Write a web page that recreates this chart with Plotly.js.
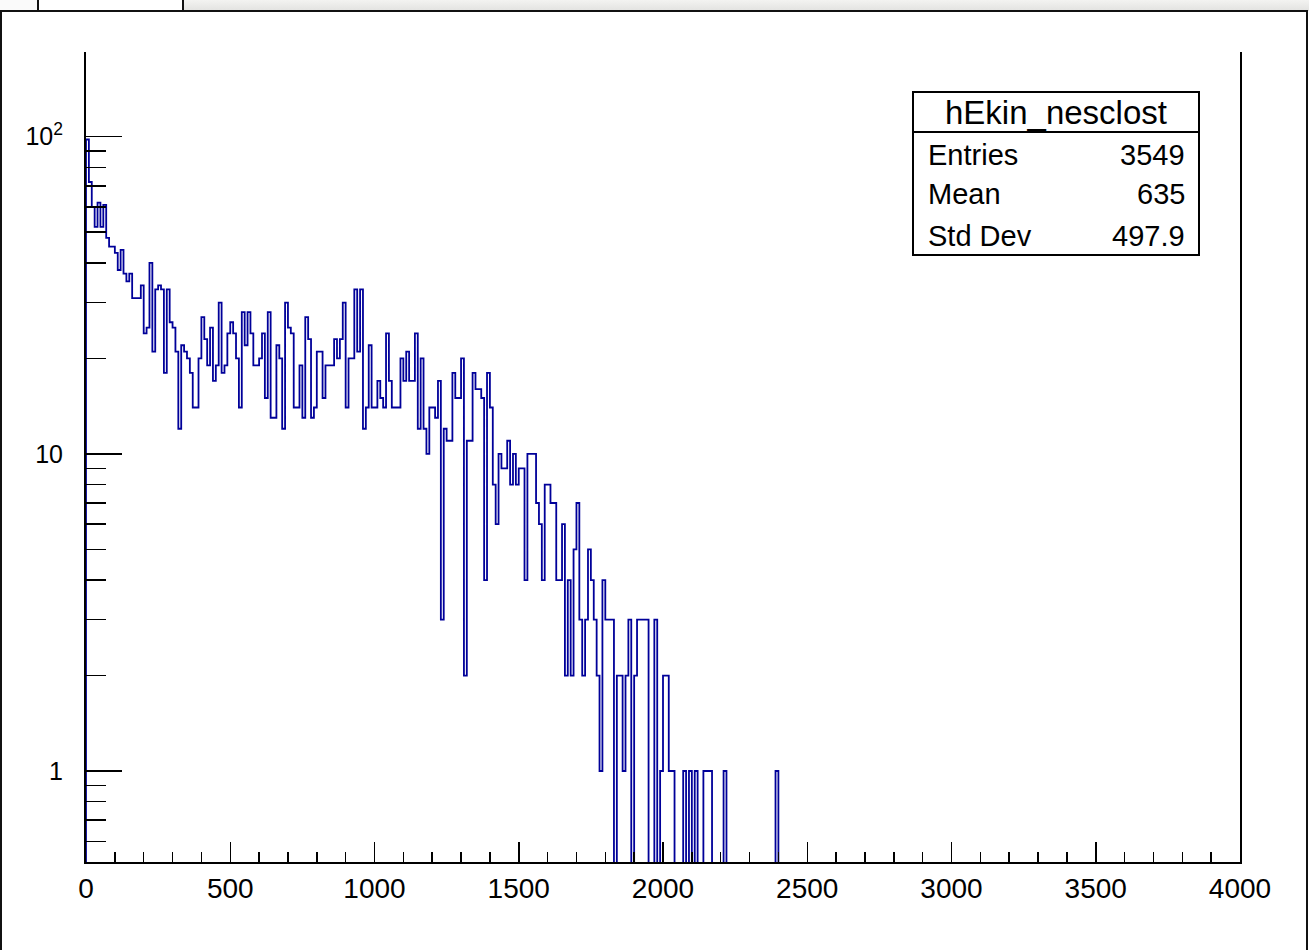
<!DOCTYPE html>
<html><head><meta charset="utf-8">
<script src="https://cdn.plot.ly/plotly-3.0.1.min.js"></script>
<style>
html,body{margin:0;padding:0;background:#fff;}
#wrap{position:relative;width:1309px;height:950px;overflow:hidden;}
#chart{position:absolute;left:0;top:0;width:1309px;height:950px;}
.ov{position:absolute;pointer-events:none;box-sizing:border-box;}
</style></head><body>
<div id="wrap">
<div id="chart"></div>
<div class="ov" style="left:0;top:0;width:1309px;height:11px;background:linear-gradient(#f3f3f1,#e2e2e0);"></div>
<div class="ov" style="left:0;top:0;width:38px;height:11px;background:#fafafa;"></div>
<div class="ov" style="left:37px;top:0;width:147px;height:11px;background:#fff;border-left:2px solid #111;border-right:2px solid #111;"></div>
<div class="ov" style="left:0;top:10px;width:1308px;height:945px;border:2px solid #111;"></div>
</div>
<script>
// Histogram hEkin_nesclost : 400 bins from 0 to 4000 (bin width 10)
const histName = "hEkin_nesclost";
const binWidth = 10;
const xMin = 0, xMax = 4000;
// bin contents for bins 0..240 (all later bins are empty)
const counts = [
 98,72,60,52,62,52,61,48,45,45, 43,38,44,37,35,37,31,31,31,34,
 24,25,40,21,33,34,33,18,33,26, 25,21,12,22,21,20,18,14,14,20,
 27,23,19,25,17,19,30,18,19,24, 26,24,20,14,28,22,28,24,19,19,
 20,24,15,28,13,13,22,20,12,30, 25,24,14,14,19,13,27,23,13,14,
 21,21,15,19,19,19,23,20,23,30, 14,20,20,33,21,33,12,14,22,14,
 14,17,15,14,24,17,14,14,14,20, 17,21,17,17,24,12,20,12,10,14,
 14,13,17,3,12,11,11,18,15,15, 20,2,11,11,18,16,16,15,4,18,
 14,8,6,10,9,9,11,8,10,8, 9,9,4,10,10,10,7,6,4,8,
 8,7,7,4,4,6,2,4,2,5, 7,3,2,3,5,4,3,2,1,4,
 3,3,3,0,2,2,1,2,3,0, 2,3,3,3,3,0,0,3,0,1,
 2,2,1,1,0,0,0,1,0,1, 0,1,0,0,1,1,1,0,0,0,
 0,1,0,0,0,0,0,0,0,0, 0,0,0,0,0,0,0,0,0,1,
 0
];
const statLabels = ["Entries", "Mean", "Std Dev"];
const statValues = ["3549", "635", "497.9"];
const xTickVals = [0,500,1000,1500,2000,2500,3000,3500,4000];
const xTickText = ["0","500","1000","1500","2000","2500","3000","3500","4000"];
const yTickVals = [1,10,100];
const yTickText = ["1","10","10<sup>2</sup>"];

const yMin = 0.5165, yMax = 185;
const floorVal = 0.05; // empty bins are drawn below the axis (clipped), as ROOT does on log scale

const xs = [0], ys = [floorVal];
for (let i = 0; i < counts.length; i++) {
  xs.push(xMin + i * binWidth);
  ys.push(counts[i] > 0 ? counts[i] : floorVal);
}
xs.push(xMin + counts.length * binWidth); ys.push(ys[ys.length - 1]);

const yMinor = [];
for (let d = 0.1; d <= 100; d *= 10) {
  for (let k = 2; k <= 9; k++) { const v = +(k * d).toPrecision(3); if (v > yMin && v < yMax) yMinor.push(v); }
}

const trace = {
  type: 'scatter', mode: 'lines', x: xs, y: ys,
  line: {shape: 'hv', color: '#000099', width: 1.8, simplify: false},
  hoverinfo: 'skip'
};

const fam = '"Liberation Sans", Arial, Helvetica, sans-serif';
const axisFontX = {family: fam, size: 28, color: '#000'};
const axisFontY = {family: fam, size: 25, color: '#000'};
const statFont = {family: fam, size: 29, color: '#000'};

const px2x = p => (p - 86) / 1154;
const px2y = p => (862 - p) / 810;

const shapes = [
  {type: 'rect', xref: 'paper', yref: 'paper', x0: px2x(913), x1: px2x(1199), y0: px2y(255), y1: px2y(92),
   line: {color: '#000', width: 2}, fillcolor: '#fff', layer: 'above'},
  {type: 'line', xref: 'paper', yref: 'paper', x0: px2x(913), x1: px2x(1199), y0: px2y(132), y1: px2y(132),
   line: {color: '#000', width: 2}, layer: 'above'}
];
const rowY = [155, 194, 236];
const annotations = [
  {xref: 'paper', yref: 'paper', x: px2x(1056), y: px2y(112), text: histName, showarrow: false,
   xanchor: 'center', yanchor: 'middle', font: Object.assign({}, statFont, {size: 33})}
];
statLabels.forEach((l, i) => {
  annotations.push({xref: 'paper', yref: 'paper', x: px2x(926), y: px2y(rowY[i]), text: l, showarrow: false,
    xanchor: 'left', yanchor: 'middle', font: statFont});
  annotations.push({xref: 'paper', yref: 'paper', x: px2x(1187), y: px2y(rowY[i]), text: statValues[i], showarrow: false,
    xanchor: 'right', yanchor: 'middle', font: statFont});
});

const layout = {
  width: 1309, height: 950,
  margin: {l: 86, r: 69, t: 52, b: 88, pad: 0},
  paper_bgcolor: '#fff', plot_bgcolor: '#fff',
  showlegend: false,
  xaxis: {
    range: [xMin, xMax], showgrid: false, zeroline: false,
    showline: true, linecolor: '#000', linewidth: 2, mirror: false,
    ticks: 'inside', ticklen: 20, tickwidth: 1.5, tickcolor: '#000',
    tickmode: 'array', tickvals: xTickVals, ticktext: xTickText,
    tickfont: axisFontX, ticklabelstandoff: 0,
    minor: {ticks: 'inside', ticklen: 10, tickwidth: 1.5, tickcolor: '#000', dtick: 100, showgrid: false}
  },
  yaxis: {
    type: 'log', range: [Math.log10(yMin), Math.log10(yMax)], showgrid: false, zeroline: false,
    showline: true, linecolor: '#000', linewidth: 2, mirror: true,
    ticks: 'inside', ticklen: 36, tickwidth: 1.5, tickcolor: '#000',
    tickmode: 'array', tickvals: yTickVals, ticktext: yTickText,
    tickfont: axisFontY, ticklabelstandoff: 16,
    minor: {ticks: 'inside', ticklen: 20, tickwidth: 1.5, tickcolor: '#000', tickmode: 'array', tickvals: yMinor, showgrid: false}
  },
  shapes: shapes,
  annotations: annotations
};

Plotly.newPlot('chart', [trace], layout, {staticPlot: true, displayModeBar: false});
</script>
</body></html>
